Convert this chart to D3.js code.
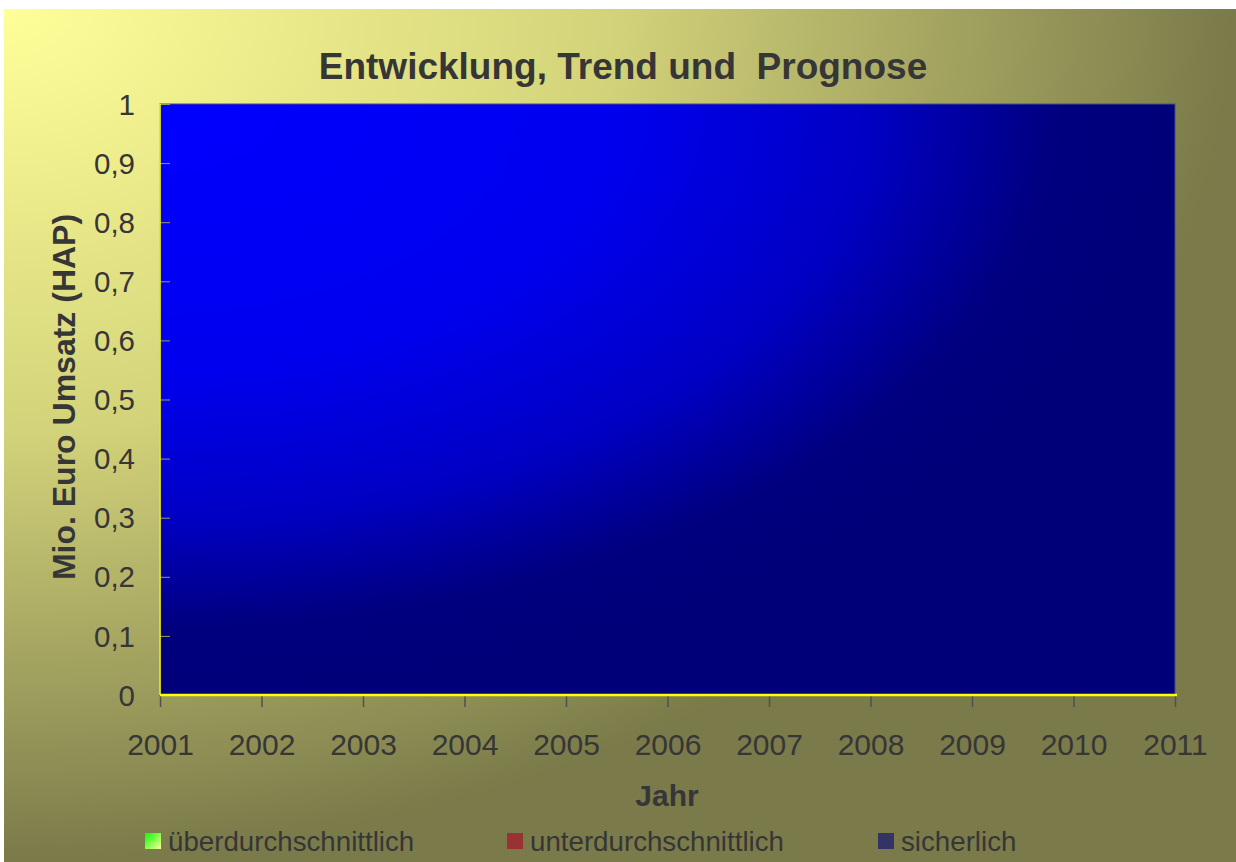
<!DOCTYPE html>
<html><head><meta charset="utf-8">
<script src="https://cdn.jsdelivr.net/npm/d3@7"></script>
<style>html,body{margin:0;padding:0;background:#fff;}svg{display:block;}</style>
</head><body>
<script>
const title = "Entwicklung, Trend und\u00a0 Prognose";
const yTitle = "Mio. Euro Umsatz (HAP)";
const xTitle = "Jahr";
const years = [2001,2002,2003,2004,2005,2006,2007,2008,2009,2010,2011];
const yTicks = [0,0.1,0.2,0.3,0.4,0.5,0.6,0.7,0.8,0.9,1];
const seriesNames = ["überdurchschnittlich","unterdurchschnittlich","sicherlich"];
const seriesColors = ["url(#gGreen)","#993333","#333366"];
// no values are plotted in the reference chart
const valuesUeber = [];
const valuesUnter = [];
const valuesSicher = [];
const seriesValues = [valuesUeber, valuesUnter, valuesSicher];

const W = 1236, H = 862;
const svg = d3.select("body").append("svg").attr("width", W).attr("height", H);
const defs = svg.append("defs");
const bg = defs.append("radialGradient").attr("id","gBg").attr("cx",0).attr("cy",0).attr("r",1).attr("fx",0).attr("fy",0);
bg.append("stop").attr("offset",0).attr("stop-color","#ffff99");
bg.append("stop").attr("offset",0.5).attr("stop-color","#d2d27a");
bg.append("stop").attr("offset",1).attr("stop-color","#7a7a4a");
const pg = defs.append("radialGradient").attr("id","gPlot").attr("cx",0).attr("cy",0).attr("r",1).attr("fx",0).attr("fy",0);
pg.append("stop").attr("offset",0).attr("stop-color","#0000ff");
pg.append("stop").attr("offset",0.45).attr("stop-color","#0000ee");
pg.append("stop").attr("offset",0.7).attr("stop-color","#0000c4");
pg.append("stop").attr("offset",0.88).attr("stop-color","#000080");
pg.append("stop").attr("offset",1).attr("stop-color","#000078");
const gg = defs.append("linearGradient").attr("id","gGreen").attr("x1",0).attr("y1",0).attr("x2",1).attr("y2",1);
gg.append("stop").attr("offset",0).attr("stop-color","#00ff00");
gg.append("stop").attr("offset",1).attr("stop-color","#ffff99");

svg.append("rect").attr("x",4).attr("y",9).attr("width",W-4).attr("height",H-9).attr("fill","url(#gBg)");

const m = {l:160, t:104, r:1175, b:695};
const x = d3.scaleLinear().domain([2001,2011]).range([m.l, m.r]);
const y = d3.scaleLinear().domain([0,1]).range([m.b, m.t]);

svg.append("rect").attr("x",m.l).attr("y",m.t).attr("width",m.r-m.l).attr("height",m.b-m.t)
  .attr("fill","url(#gPlot)").attr("stroke","#4a4a8a").attr("stroke-width",1);

const font = "'Liberation Sans', Arial, sans-serif";
const txt = "#363636";

// series (empty)
const line = d3.line().defined(d=>d!=null).x((d,i)=>x(years[i])).y(d=>y(d));
seriesValues.forEach((vals,i)=>{
  svg.append("path").attr("d", line(vals) || "").attr("fill","none").attr("stroke",seriesColors[i]);
});

// y axis
const yAxis = d3.axisRight(y).tickValues(yTicks).tickSize(10).tickFormat(()=> "");
const ya = svg.append("g").attr("transform",`translate(${m.l},0)`).call(yAxis);
ya.select(".domain").remove();
ya.selectAll(".tick line").attr("stroke","#9a9a60");
svg.append("line").attr("x1",m.l).attr("x2",m.l).attr("y1",m.t).attr("y2",m.b).attr("stroke","#ffff00").attr("stroke-width",1.5);
svg.append("g").selectAll("text").data(yTicks).join("text")
  .attr("x",135).attr("y",d=>y(d)).attr("dy","0.36em").attr("text-anchor","end")
  .attr("font-family",font).attr("font-size",29.5).attr("fill",txt)
  .text(d=>d3.format("")(d).replace(".",","));

// x axis
const xAxis = d3.axisBottom(x).tickValues(years).tickSize(12).tickFormat(d3.format("d"));
const xa = svg.append("g").attr("transform",`translate(0,${m.b})`).call(xAxis);
xa.select(".domain").remove();
xa.selectAll(".tick line").attr("stroke","#505050").attr("stroke-width",1.5);
xa.selectAll(".tick text").attr("y",49).attr("dy","0.36em").attr("font-family",font).attr("font-size",30).attr("fill",txt);
svg.append("line").attr("x1",m.l).attr("x2",m.r+2).attr("y1",m.b).attr("y2",m.b).attr("stroke","#ffff00").attr("stroke-width",2.5);

// titles
svg.append("text").attr("x",623).attr("y",66).attr("dy","0.36em").attr("text-anchor","middle")
  .attr("font-family",font).attr("font-weight","bold").attr("font-size",37).attr("fill",txt).text(title);
svg.append("text").attr("transform","translate(63,397) rotate(-90)").attr("dy","0.36em").attr("text-anchor","middle")
  .attr("font-family",font).attr("font-weight","bold").attr("font-size",32).attr("fill",txt).text(yTitle);
svg.append("text").attr("x",667).attr("y",795).attr("dy","0.36em").attr("text-anchor","middle")
  .attr("font-family",font).attr("font-weight","bold").attr("font-size",30).attr("fill",txt).text(xTitle);

// legend
const legX = [145, 507, 878];
const lg = svg.append("g").selectAll("g").data(seriesNames).join("g")
  .attr("transform",(d,i)=>`translate(${legX[i]},833)`);
lg.append("rect").attr("width",16).attr("height",16).attr("fill",(d,i)=>seriesColors[i]);
lg.append("text").attr("x",23).attr("y",8).attr("dy","0.36em")
  .attr("font-family",font).attr("font-size",27.7).attr("fill",txt).text(d=>d);
</script>
</body></html>
